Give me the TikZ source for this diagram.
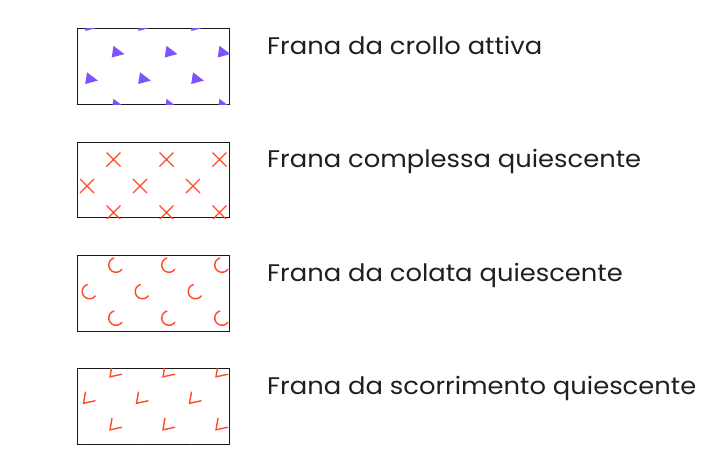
\documentclass[tikz,border=0pt]{standalone}
\usepackage{fontspec}
\setmainfont{Poppins}[FakeStretch=1.075]
\usetikzlibrary{positioning}
\definecolor{crollo}{RGB}{128,82,255}
\definecolor{quiesc}{RGB}{255,74,40}

\begin{document}
\begin{tikzpicture}[x=1pt,y=-1pt,
    legbox/.style={draw=black!90,line width=1.1pt,minimum width=152pt,minimum height=75.5pt,inner sep=0pt,anchor=north west},
    legtext/.style={anchor=base west,inner sep=0pt,text=black!88,font=\fontsize{24}{28}\selectfont},
    sym/.style={quiesc,line width=1.4pt}]
    \useasboundingbox (0,0) rectangle (721,461);
    \def\dx{53}
    \def\dy{26.5}

    % frana da crollo attiva
    \node[legbox] (box1) at (77,28) {};
    \node[legtext] (lab1) at (267,54) {Frana da crollo attiva};
    \begin{scope}
        \clip (box1.north west) rectangle (box1.south east);
        \foreach \r in {0,...,4}
            \foreach \c in {0,...,3}{
                \pgfmathsetmacro\px{77+13+\c*\dx+mod(\r,2)*\dx/2}
                \pgfmathsetmacro\py{28-2+\r*\dy}
                \fill[crollo,shift={(\px,\py)}] (-3,-6.7) -- (-4.8,5) -- (7.9,1.6) -- cycle;
            }
    \end{scope}

    % frana complessa quiescente
    \node[legbox] (box2) at (77,141.5) {};
    \node[legtext] (lab2) at (267,167.5) {Frana complessa quiescente};
    \begin{scope}
        \clip (box2.north west) rectangle (box2.south east);
        \foreach \r in {0,...,4}
            \foreach \c in {0,...,3}{
                \pgfmathsetmacro\px{77+10+\c*\dx+mod(\r,2)*\dx/2}
                \pgfmathsetmacro\py{141.5-8.5+\r*\dy}
                \draw[sym,shift={(\px,\py)}] (-7,-7) -- (7,7) (-7,7) -- (7,-7);
            }
    \end{scope}

    % frana da colata quiescente
    \node[legbox] (box3) at (77,255) {};
    \node[legtext] (lab3) at (267,281) {Frana da colata quiescente};
    \begin{scope}
        \clip (box3.north west) rectangle (box3.south east);
        \foreach \r in {0,...,4}
            \foreach \c in {0,...,3}{
                \pgfmathsetmacro\px{77+12.5+\c*\dx+mod(\r,2)*\dx/2}
                \pgfmathsetmacro\py{255-16.5+\r*\dy}
                \draw[sym,shift={(\px,\py)}] (-105:7.3) arc[start angle=-105,end angle=-325,radius=7.3];
            }
    \end{scope}

    % frana da scorrimento quiescente
    \node[legbox] (box4) at (77,368) {};
    \node[legtext] (lab4) at (267,394.5) {Frana da scorrimento quiescente};
    \begin{scope}
        \clip (box4.north west) rectangle (box4.south east);
        \foreach \r in {0,...,4}
            \foreach \c in {0,...,3}{
                \pgfmathsetmacro\px{77+12+\c*\dx+mod(\r,2)*\dx/2}
                \pgfmathsetmacro\py{368-23.5+\r*\dy}
                \draw[sym,shift={(\px,\py)}] (-3.5,-5.8) -- (-5.5,5.8) -- (6.5,3.2);
            }
    \end{scope}
\end{tikzpicture}
\end{document}
